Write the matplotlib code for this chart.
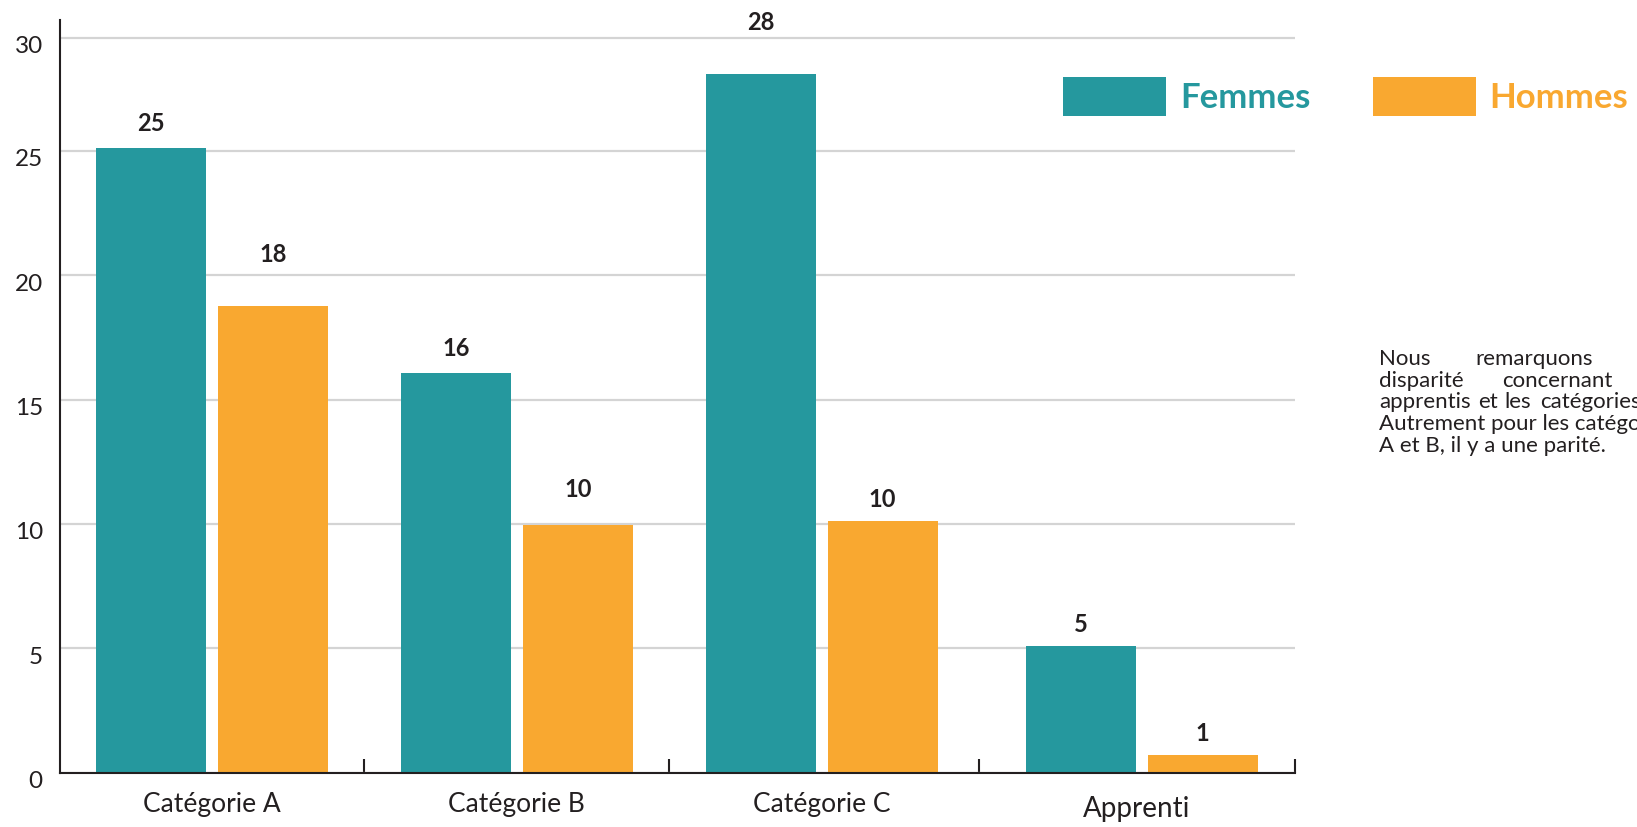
import numpy as np
import matplotlib
matplotlib.use("Agg")
import matplotlib.pyplot as plt
from matplotlib.ticker import FixedLocator
import matplotlib.transforms as mtransforms

categories = ["Catégorie A", "Catégorie B", "Catégorie C", "Apprenti"]
femmes = [25.1, 16.05, 28.1, 5.1]
hommes = [18.75, 9.95, 10.1, 0.72]
femmes_labels = ["25", "16", "28", "5"]
hommes_labels = ["18", "10", "10", "1"]
ytick_labels = ["0", "5", "10", "15", "20", "25", "30"]

# layout / style
group_pos = np.array([0, 1, 2, 3.05])
ytick_pos = [0, 5, 10, 15, 20, 25, 29.55]   # top gridline sits a bit low in the original
sep_pos = [0.5, 1.5, 2.517, 3.553]
femmes_off = [18, 18, 37, 15]   # label offsets above bars, points
hommes_off = [37, 26, 16, 15]
teal = "#25989E"
orange = "#F9A830"
dark = "#231F20"
font = "Lato"

plt.rcParams["font.family"] = [font, "DejaVu Sans"]

fig = plt.figure(figsize=(16.37, 8.27), dpi=100)
ax = fig.add_axes([0.03635, 0.0658, 0.7548, 0.91])

w = 0.36
bf = ax.bar(group_pos - 0.2, femmes, w, color=teal, label="Femmes")
bh = ax.bar(group_pos + 0.2, hommes, w, color=orange, label="Hommes")

for xs, vals, labs, offs in [(group_pos - 0.2, femmes, femmes_labels, femmes_off),
                             (group_pos + 0.2, hommes, hommes_labels, hommes_off)]:
    for xi, v, lab, o in zip(xs, vals, labs, offs):
        ax.annotate(lab, (xi, v), xytext=(0, o), textcoords="offset points",
                    ha="center", va="center", fontsize=17, fontweight="bold", color=dark)

ax.set_xlim(-0.5, 3.553)
ax.set_ylim(0, 30.26)

ax.set_yticks(ytick_pos)
ax.set_yticklabels(ytick_labels)
ax.tick_params(axis="y", length=0, pad=12, labelsize=17.5, labelcolor=dark)
off = mtransforms.ScaledTranslation(0, -7 / 100, fig.dpi_scale_trans)
for t in ax.get_yticklabels():
    t.set_transform(t.get_transform() + off)

ax.set_xticks(group_pos)
ax.set_xticklabels(categories)
ax.tick_params(axis="x", which="major", length=0, pad=14, labelsize=19, labelcolor=dark)
appr = ax.get_xticklabels()[3]
appr.set_fontsize(20)
appr.set_transform(appr.get_transform() +
                   mtransforms.ScaledTranslation(-5 / 100, -4 / 100, fig.dpi_scale_trans))
ax.xaxis.set_minor_locator(FixedLocator(sep_pos))
ax.tick_params(axis="x", which="minor", direction="in", length=10, width=1.5, color=dark)

ax.set_axisbelow(True)
ax.yaxis.grid(True, color="#D4D4D4", linewidth=1.6)
for s in ["top", "right"]:
    ax.spines[s].set_visible(False)
for s in ["left", "bottom"]:
    ax.spines[s].set_color(dark)
    ax.spines[s].set_linewidth(1.5)

leg = ax.legend(handles=[bf, bh], labels=["Femmes", "Hommes"], loc="center left",
                bbox_to_anchor=(0.6494, 0.8833), bbox_transform=fig.transFigure,
                ncol=2, frameon=False, borderpad=0, borderaxespad=0,
                prop={"family": font, "weight": "bold", "size": 25},
                handlelength=2.97, handleheight=1.35, handletextpad=0.4,
                columnspacing=1.79, labelcolor=[teal, orange])

# side comment, justified in the original (runs past the right edge there too)
lines = [
    [("Nous", 0), ("remarquons", 96)],
    [("disparité", 0), ("concernant", 123)],
    [("apprentis", 0), ("et", 99), ("les", 125), ("catégories", 161)],
    [("Autrement pour les catégories", 0)],
    [("A et B, il y a une parité.", 0)],
]
x0, y0, dy = 1379, 359, 21.7
for i, words in enumerate(lines):
    for word, dx in words:
        fig.text((x0 + dx) / 1637, 1 - (y0 + i * dy) / 827, word, fontsize=16,
                 color=dark, ha="left", va="center")

fig.savefig("out.png", dpi=100)
